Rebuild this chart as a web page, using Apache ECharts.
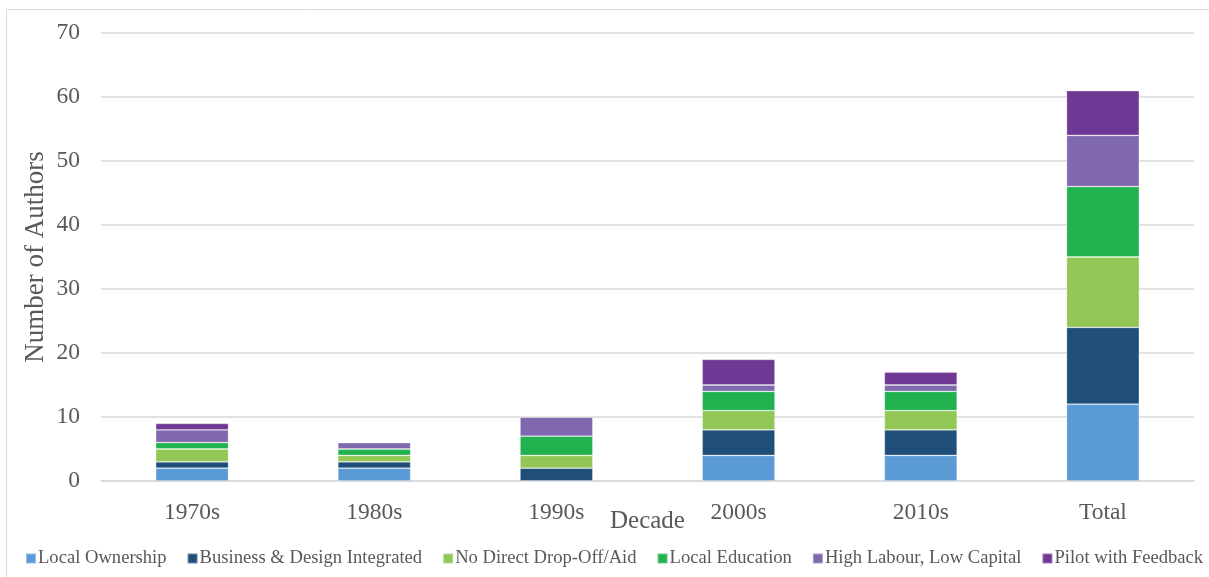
<!DOCTYPE html>
<html>
<head>
<meta charset="utf-8">
<script src="https://cdn.jsdelivr.net/npm/echarts@6/dist/echarts.min.js"></script>
<style>
  html, body { margin: 0; padding: 0; background: #fff; }
  #chart { width: 1209px; height: 577px; }
</style>
</head>
<body>
<div id="chart"></div>
<script>
// Authors per design principle, by decade
const decades = ['1970s', '1980s', '1990s', '2000s', '2010s', 'Total'];
const localOwnership      = [2, 2, 0, 4, 4, 12];
const businessDesign      = [1, 1, 2, 4, 4, 12];
const noDirectDropOff     = [2, 1, 2, 3, 3, 11];
const localEducation      = [1, 1, 3, 3, 3, 11];
const highLabourLowCap    = [2, 1, 3, 1, 1, 8];
const pilotWithFeedback   = [1, 0, 0, 4, 2, 7];

const seriesDefs = [
  { name: 'Local Ownership', data: localOwnership, color: '#5B9BD5' },
  { name: 'Business & Design Integrated', data: businessDesign, color: '#1F4E79' },
  { name: 'No Direct Drop-Off/Aid', data: noDirectDropOff, color: '#92C755' },
  { name: 'Local Education', data: localEducation, color: '#21B14E' },
  { name: 'High Labour, Low Capital', data: highLabourLowCap, color: '#7F68AD' },
  { name: 'Pilot with Feedback', data: pilotWithFeedback, color: '#6F3894' }
];

const font = '"Liberation Serif", "Times New Roman", serif';
const textColor = '#595959';

const chart = echarts.init(document.getElementById('chart'), null, { renderer: 'canvas' });
chart.setOption({
  animation: false,
  backgroundColor: '#fff',
  textStyle: { fontFamily: font },
  graphic: [{
    type: 'rect',
    shape: { x: 6.5, y: 9.5, width: 1400, height: 800 },
    style: { fill: 'none', stroke: '#d9d9d9', lineWidth: 1 },
    silent: true
  }],
  grid: { left: 101, right: 15, top: 33, bottom: 96, containLabel: false },
  legend: {
    left: 20,
    top: 544,
    width: 1300,
    padding: 5,
    itemWidth: 10,
    itemHeight: 10,
    itemGap: 20,
    icon: 'rect',
    textStyle: { fontFamily: font, fontSize: 18.6, color: textColor, padding: [0, 0, 0, -3] },
    data: seriesDefs.map(s => s.name)
  },
  xAxis: {
    type: 'category',
    data: decades,
    name: 'Decade',
    nameLocation: 'middle',
    nameGap: 28,
    nameMoveOverlap: false,
    nameTextStyle: { fontFamily: font, fontSize: 25, color: textColor },
    axisLine: { lineStyle: { color: '#d9d9d9', width: 1.5 } },
    axisTick: { show: false },
    axisLabel: { fontFamily: font, fontSize: 23.5, color: textColor, margin: 20 }
  },
  yAxis: {
    type: 'value',
    min: 0,
    max: 70,
    interval: 10,
    name: 'Number of Authors',
    nameLocation: 'middle',
    nameGap: 52,
    nameMoveOverlap: false,
    nameTextStyle: { fontFamily: font, fontSize: 27, color: textColor },
    axisLine: { show: false },
    axisTick: { show: false },
    splitLine: { lineStyle: { color: '#d9d9d9', width: 1.5 } },
    axisLabel: { fontFamily: font, fontSize: 23.5, color: textColor, margin: 21 }
  },
  series: seriesDefs.map(s => ({
    name: s.name,
    type: 'bar',
    stack: 'total',
    data: s.data,
    barWidth: '40%',
    itemStyle: { color: s.color, borderColor: 'rgba(255,255,255,0.35)', borderWidth: 0.8 }
  }))
});
</script>
</body>
</html>
